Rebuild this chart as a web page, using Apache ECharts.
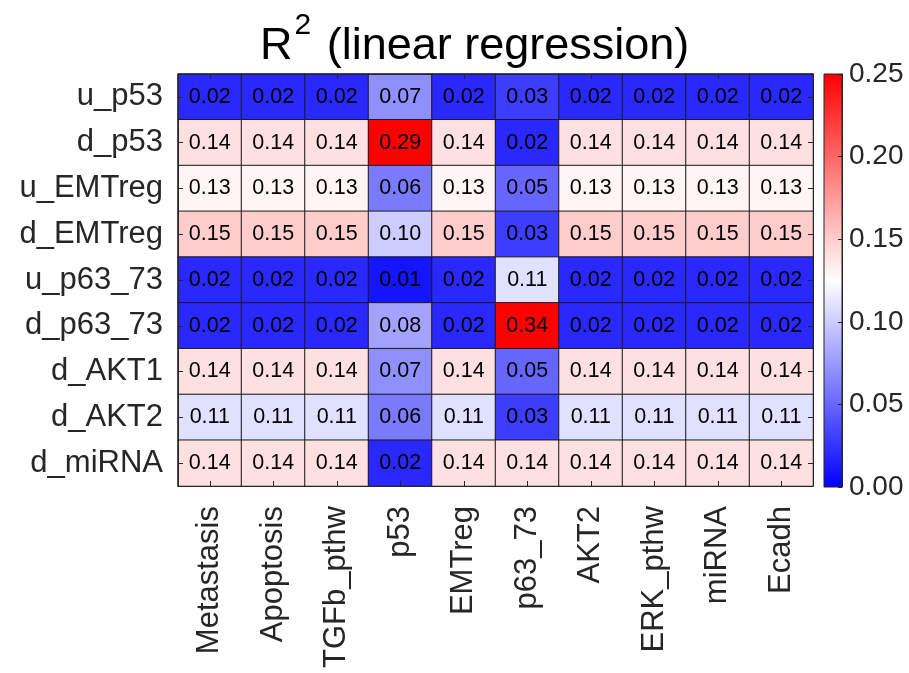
<!DOCTYPE html>
<html>
<head>
<meta charset="utf-8">
<script src="https://cdn.jsdelivr.net/npm/echarts@6/dist/echarts.min.js"></script>
<style>
  html, body { margin: 0; padding: 0; background: #fff; }
  #chart { width: 909px; height: 673px; }
</style>
</head>
<body>
<div id="chart"></div>
<script>
const colLabels = ['Metastasis', 'Apoptosis', 'TGFb_pthw', 'p53', 'EMTreg', 'p63_73', 'AKT2', 'ERK_pthw', 'miRNA', 'Ecadh'];
const rowLabels = ['u_p53', 'd_p53', 'u_EMTreg', 'd_EMTreg', 'u_p63_73', 'd_p63_73', 'd_AKT1', 'd_AKT2', 'd_miRNA'];
const r2Values = [
  [0.02, 0.02, 0.02, 0.07, 0.02, 0.03, 0.02, 0.02, 0.02, 0.02],
  [0.14, 0.14, 0.14, 0.29, 0.14, 0.02, 0.14, 0.14, 0.14, 0.14],
  [0.13, 0.13, 0.13, 0.06, 0.13, 0.05, 0.13, 0.13, 0.13, 0.13],
  [0.15, 0.15, 0.15, 0.10, 0.15, 0.03, 0.15, 0.15, 0.15, 0.15],
  [0.02, 0.02, 0.02, 0.01, 0.02, 0.11, 0.02, 0.02, 0.02, 0.02],
  [0.02, 0.02, 0.02, 0.08, 0.02, 0.34, 0.02, 0.02, 0.02, 0.02],
  [0.14, 0.14, 0.14, 0.07, 0.14, 0.05, 0.14, 0.14, 0.14, 0.14],
  [0.11, 0.11, 0.11, 0.06, 0.11, 0.03, 0.11, 0.11, 0.11, 0.11],
  [0.14, 0.14, 0.14, 0.02, 0.14, 0.14, 0.14, 0.14, 0.14, 0.14]
];
const colorRange = [0, 0.25];
const colorbarInterval = 0.05;

const FONT = "'Liberation Sans', Arial, Helvetica, sans-serif";
const TXT = '#262626';
const LINE = '#262626';

const heatData = [];
r2Values.forEach((row, ri) => row.forEach((v, ci) => heatData.push([ci, ri, v])));

const chart = echarts.init(document.getElementById('chart'), null, { renderer: 'canvas' });

const tickStyle = { show: true, inside: true, alignWithLabel: true, length: 5, lineStyle: { color: LINE, width: 1 } };

chart.setOption({
  animation: false,
  backgroundColor: '#ffffff',
  title: {
    text: '{a|R}{sup|2}{a| (linear regression)}',
    left: 255,
    top: 6,
    textStyle: {
      fontWeight: 'normal',
      rich: {
        a: { fontFamily: FONT, fontSize: 45, fontWeight: 'normal', color: '#000', verticalAlign: 'bottom', lineHeight: 58 },
        sup: { fontFamily: FONT, fontSize: 30, fontWeight: 'normal', color: '#000', verticalAlign: 'top', lineHeight: 58, padding: [0, 3, 24, 2] }
      }
    }
  },
  grid: [
    { left: 178, top: 74, width: 635, height: 412, show: false, containLabel: false },
    {
      left: 824, top: 74, width: 18, height: 413, show: true,
      borderColor: LINE, borderWidth: 1,
      backgroundColor: {
        type: 'linear', x: 0, y: 0, x2: 0, y2: 1,
        colorStops: [
          { offset: 0, color: '#ff0000' },
          { offset: 0.5, color: '#ffffff' },
          { offset: 1, color: '#0000ff' }
        ]
      }
    }
  ],
  xAxis: [
    {
      type: 'category', gridIndex: 0, data: colLabels, position: 'bottom', z: 10,
      axisLine: { show: true, onZero: false, lineStyle: { color: LINE, width: 1 } },
      axisTick: tickStyle,
      axisLabel: { rotate: 90, margin: 20, fontFamily: FONT, fontSize: 31, color: TXT, interval: 0 },
      splitLine: { show: false }
    },
    {
      type: 'category', gridIndex: 0, data: colLabels, position: 'top', z: 10,
      axisLine: { show: true, onZero: false, lineStyle: { color: LINE, width: 1 } },
      axisTick: tickStyle,
      axisLabel: { show: false },
      splitLine: { show: false }
    },
    {
      type: 'value', gridIndex: 1, show: false, min: 0, max: 1
    }
  ],
  yAxis: [
    {
      type: 'category', gridIndex: 0, data: rowLabels, inverse: true, position: 'left', z: 10,
      axisLine: { show: true, onZero: false, lineStyle: { color: LINE, width: 1 } },
      axisTick: tickStyle,
      axisLabel: { margin: 15, fontFamily: FONT, fontSize: 31, color: TXT, interval: 0 },
      splitLine: { show: false }
    },
    {
      type: 'category', gridIndex: 0, data: rowLabels, inverse: true, position: 'right', z: 10,
      axisLine: { show: true, onZero: false, lineStyle: { color: LINE, width: 1 } },
      axisTick: tickStyle,
      axisLabel: { show: false },
      splitLine: { show: false }
    },
    {
      type: 'value', gridIndex: 1, position: 'right', min: colorRange[0], max: colorRange[1],
      interval: colorbarInterval, z: 10,
      axisLine: { show: true, onZero: false, lineStyle: { color: LINE, width: 1 } },
      axisTick: { show: true, inside: true, length: 4, lineStyle: { color: LINE, width: 1 } },
      axisLabel: {
        margin: 7, fontFamily: FONT, fontSize: 28, color: TXT,
        formatter: v => v.toFixed(2), showMinLabel: true, showMaxLabel: true
      },
      splitLine: { show: false }
    }
  ],
  visualMap: {
    show: false,
    type: 'continuous',
    min: colorRange[0],
    max: colorRange[1],
    seriesIndex: 0,
    dimension: 2,
    inRange: { color: ['#0000ff', '#ffffff', '#ff0000'] }
  },
  series: [
    {
      type: 'heatmap',
      xAxisIndex: 0,
      yAxisIndex: 0,
      data: heatData,
      itemStyle: { borderColor: '#1a1a1a', borderWidth: 1 },
      label: {
        show: true,
        fontFamily: FONT,
        fontSize: 21.5,
        color: '#000',
        formatter: p => p.value[2].toFixed(2)
      },
      emphasis: { disabled: true }
    }
  ]
});
</script>
</body>
</html>
